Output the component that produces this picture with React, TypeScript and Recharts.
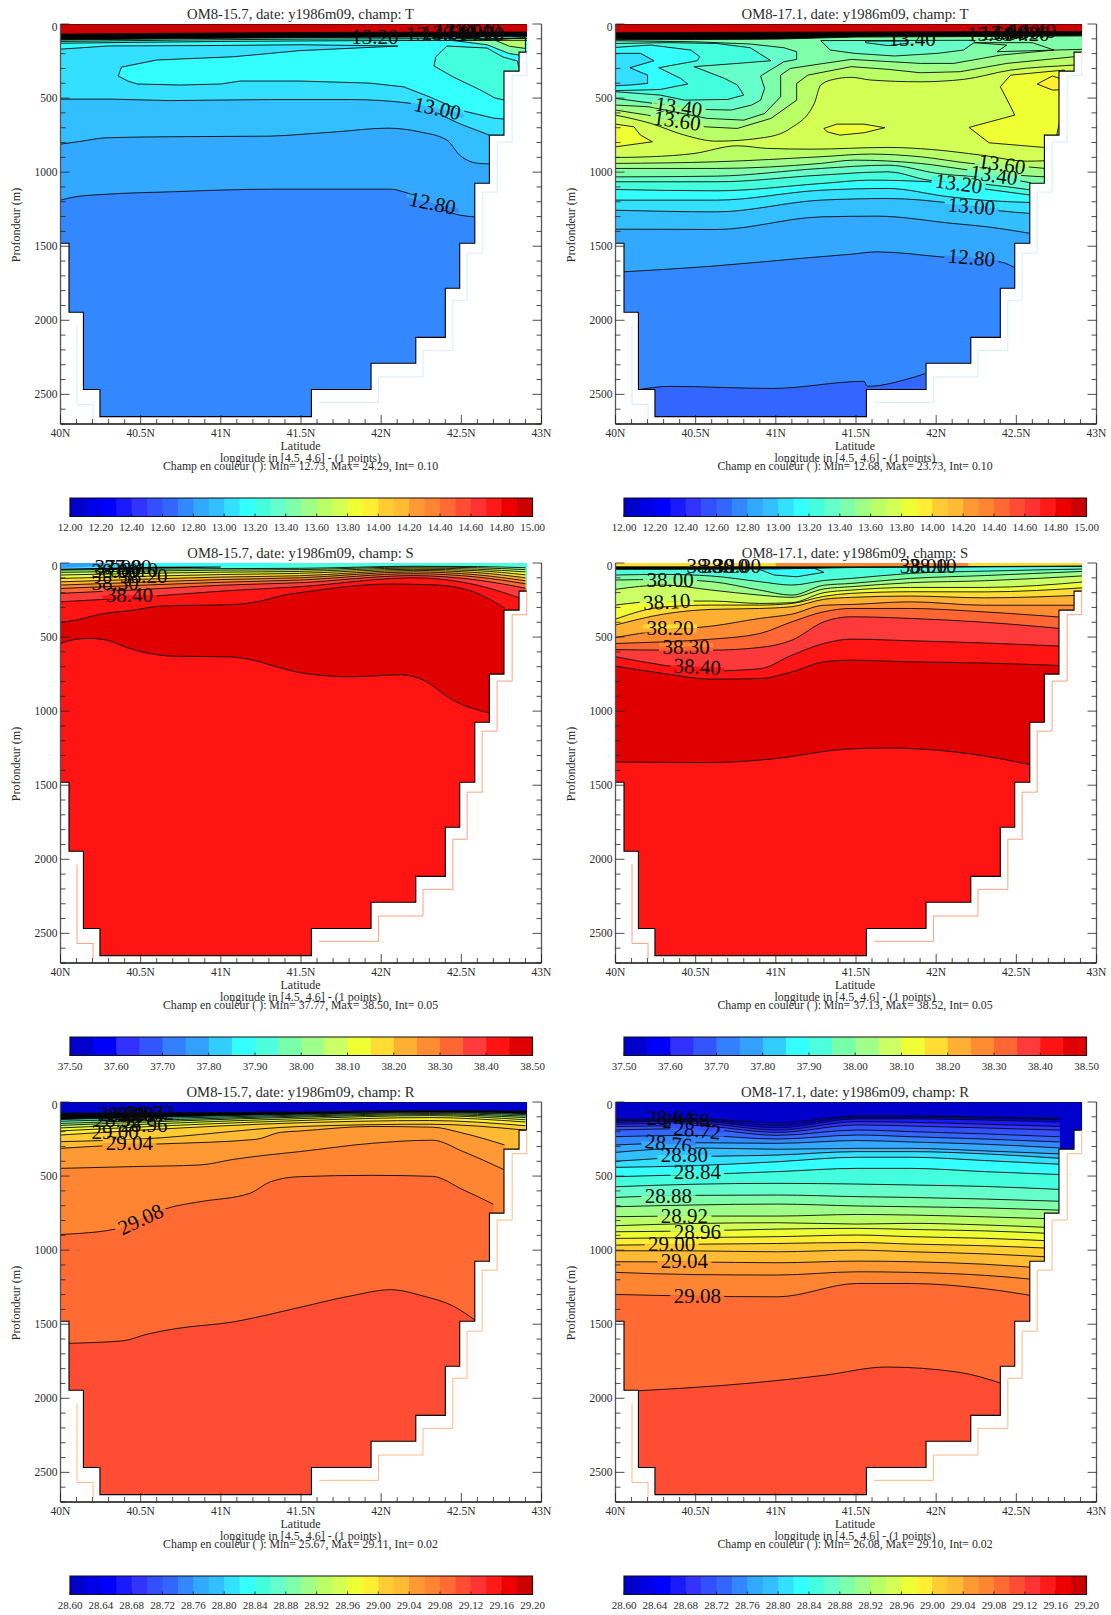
import React from "react";
import { Area, ComposedChart, ReferenceArea, ReferenceDot, XAxis, YAxis } from "recharts";

type Pt = number[];
// band = lower edge of the colour band painted below the line, null = the black surface layer
type Contour = { band: number | null; pts: Pt[]; quiet?: boolean };
type ContourLabel = { text: string; lat: number; depth: number; angle?: number; chip?: number[]; size?: number };

const FONT = "'Liberation Serif', serif";
const TEXT = "#2b2b2b";
const DEPTH_MAX = 2700;

const latTicks = Array.from({ length: 31 }, (_, i) => 40 + i / 10);
const depthTicks = Array.from({ length: 28 }, (_, i) => i * 100);

const bathymetry = [
  [40, 1480], [40.053, 1946], [40.143, 2467], [40.246, 2650], [41.565, 2467], [41.937, 2290], [42.216, 2115],
  [42.4, 1784], [42.49, 1480], [42.584, 1075], [42.675, 750], [42.766, 318], [42.86, 190], [42.91, 0], [43, 0],
];
const bathymetryEdge = [...bathymetry.slice(0, 13), [42.91, 190]];
const paleCoastRight = [
  [41.613, 2554], [41.983, 2383], [42.261, 2203], [42.447, 1865], [42.536, 1547], [42.63, 1135], [42.723, 797],
  [42.817, 349], [42.908, 190],
];
const paleCoastLeft = [[40.103, 2034], [40.103, 2568], [40.203, 2669]];

const paletteThirty = [
  "#0000cc", "#0000e6", "#0000ff", "#1a1aff", "#3333ff", "#3350ff", "#3366ff", "#3388ff", "#33a8ff", "#33bfff",
  "#33e0ff", "#33ffff", "#44ffdd", "#66ffcc", "#80ffaa", "#a0ff88", "#bbff66", "#d4ff55", "#eeff33", "#ffee33",
  "#ffcc33", "#ffbb33", "#ff9933", "#ff8533", "#ff6b33", "#ff4d33", "#ff3333", "#ff1a1a", "#ee0000", "#cc0000",
];
const paletteTwenty = [
  "#0000cc", "#0000ff", "#3030ff", "#3355ff", "#3380ff", "#33a0ff", "#33ccff", "#33ffff", "#4dffdd", "#77ffaa",
  "#a0ff88", "#ccff66", "#f0ff33", "#ffdd33", "#ffb033", "#ff8c33", "#ff6633", "#ff3a3a", "#ff1414", "#e00000",
];

const tempBarTicks = [12, 12.2, 12.4, 12.6, 12.8, 13, 13.2, 13.4, 13.6, 13.8, 14, 14.2, 14.4, 14.6, 14.8, 15];
const salBarTicks = [37.5, 37.6, 37.7, 37.8, 37.9, 38, 38.1, 38.2, 38.3, 38.4, 38.5];
const rhoBarTicks = [28.6, 28.64, 28.68, 28.72, 28.76, 28.8, 28.84, 28.88, 28.92, 28.96, 29, 29.04, 29.08, 29.12, 29.16, 29.2];

const temp157: Contour[] = [
  { band: 14.9, pts: [[40, 0], [43, 0]] },
  { band: null, pts: [[40, 68], [41.5, 58], [43, 54]] },
  { band: 13.3, pts: [[40, 108], [41.5, 92], [43, 86]] },
  { band: 13.2, pts: [[40, 118], [41.5, 102], [43, 98]] },
  { band: 13.1, pts: [[40, 130], [41, 118], [42, 112], [43, 110]] },
  {
    band: 13.0,
    pts: [
      [40, 170], [40.3, 148], [41, 145], [41.5, 140], [42.105, 149], [41.49, 180], [41.08, 221], [40.6, 243], [40.38, 291],
      [40.36, 351], [40.42, 385], [40.48, 405], [40.75, 412], [41, 405], [41.12, 385], [41.49, 385], [41.93, 399],
      [42.14, 424], [42.3, 491], [42.49, 581], [42.7, 635], [42.77, 642],
    ],
  },
  { band: 12.9, pts: [[40, 507], [40.31, 507], [40.68, 517], [41.31, 510], [41.81, 510], [42.18, 535], [42.51, 682], [42.675, 750]] },
  { band: 12.8, pts: [[40, 811], [40.12, 793], [40.29, 768], [40.68, 761], [41.31, 757], [41.5, 745], [41.72, 728], [42.04, 703], [42.24, 728], [42.41, 784], [42.49, 885], [42.61, 941], [42.7, 945]] },
  { band: 12.7, pts: [[40, 1189], [40.09, 1167], [40.29, 1149], [40.68, 1133], [41.31, 1115], [42.06, 1115], [42.14, 1133], [42.49, 1290], [42.58, 1302]] },
  {
    band: 13.2,
    pts: [
      [42.41, 149], [42.34, 223], [42.33, 284], [42.45, 358], [42.62, 446], [42.71, 500], [42.77, 514], [42.9, 514],
      [42.85, 250], [42.76, 223], [42.66, 162], [42.41, 149],
    ],
  },
  { band: 13.4, pts: [[42.45, 112], [42.66, 140], [42.8, 200], [42.9, 215], [42.9, 95], [42.45, 112]] },
  { band: 13.6, pts: [[42.7, 105], [42.8, 150], [42.9, 165], [42.9, 92], [42.7, 105]] },
];
const temp157Labels: ContourLabel[] = [
  { text: "13.20", lat: 41.96, depth: 90 },
  { text: "13.00", lat: 42.35, depth: 570, angle: 12, chip: [13, 12.9] },
  { text: "12.80", lat: 42.32, depth: 1210, angle: 12, chip: [12.8, 12.7] },
  { text: "13.40", lat: 42.3, depth: 70 },
  { text: "13.60", lat: 42.4, depth: 60 },
  { text: "13.80", lat: 42.48, depth: 50 },
  { text: "14.00", lat: 42.55, depth: 55 },
  { text: "14.20", lat: 42.62, depth: 65 },
  { text: "14.40", lat: 42.6, depth: 45 },
];

const temp171: Contour[] = [
  { band: 14.9, pts: [[40, 0], [43, 0]] },
  { band: null, pts: [[40, 59], [41.5, 54], [43, 50]] },
  { band: 13.4, pts: [[40, 106], [41, 102], [41.5, 88], [42, 86], [43, 80]] },
  {
    band: 13.5,
    pts: [
      [40, 547], [40.21, 559], [40.57, 637], [40.8, 649], [40.93, 604], [41.03, 491], [41.03, 345], [41.09, 300], [41.3, 266],
      [41.47, 239], [41.9, 266], [42.11, 266], [42.4, 210], [42.735, 176], [42.95, 170],
    ],
  },
  {
    band: 13.6,
    pts: [
      [40, 581], [40.2, 615], [40.56, 694], [40.76, 705], [40.97, 637], [41.13, 514], [41.13, 401], [41.2, 345], [41.47, 288],
      [41.7, 306], [41.9, 329], [42.15, 322], [42.44, 266], [42.86, 221], [42.95, 215],
    ],
  },
  {
    band: 13.7,
    pts: [
      [40, 615], [40.22, 671], [40.43, 750], [40.63, 791], [40.93, 766], [41.09, 705], [41.24, 536], [41.28, 412], [41.36, 374],
      [41.47, 360], [41.59, 378], [41.9, 390], [42.17, 374], [42.465, 311], [42.86, 277], [42.95, 270],
    ],
  },
  { band: 13.6, pts: [[40, 901], [40.22, 896], [40.49, 874], [40.76, 822], [40.95, 840], [41.22, 845], [41.7, 833], [41.97, 847], [42.28, 885], [42.57, 926], [42.68, 923]] },
  { band: 13.5, pts: [[40, 941], [40.63, 930], [41.28, 896], [41.59, 878], [41.9, 896], [42.215, 941], [42.57, 964], [42.68, 975]] },
  { band: 13.4, pts: [[40, 975], [40.63, 975], [41.28, 941], [41.49, 919], [41.9, 941], [42.215, 987], [42.5, 1020], [42.68, 1032]] },
  { band: 13.3, pts: [[40, 1032], [40.63, 1027], [41.28, 975], [41.7, 953], [42.01, 1009], [42.5, 1054], [42.59, 1072]] },
  { band: 13.2, pts: [[40, 1065], [40.63, 1065], [41.28, 1020], [41.7, 998], [41.95, 1054], [42.3, 1081], [42.59, 1120]] },
  { band: 13.1, pts: [[40, 1117], [40.63, 1126], [41.28, 1077], [41.59, 1054], [41.95, 1065], [42.28, 1110], [42.59, 1155]] },
  { band: 13.0, pts: [[40, 1189], [40.63, 1189], [41.28, 1122], [41.7, 1110], [42.07, 1165], [42.3, 1190], [42.59, 1205]] },
  { band: 12.9, pts: [[40, 1257], [40.63, 1268], [41.28, 1189], [41.7, 1178], [42.11, 1212], [42.4, 1261], [42.59, 1279]] },
  { band: 12.8, pts: [[40, 1385], [40.63, 1387], [41.28, 1302], [41.63, 1297], [42.11, 1347], [42.32, 1369], [42.59, 1414]] },
  { band: 12.7, pts: [[40, 1676], [40.6, 1635], [41.2, 1578], [41.47, 1554], [41.63, 1538], [42.03, 1572], [42.4, 1606], [42.5, 1651]] },
  { band: 12.6, pts: [[40.15, 2467], [40.34, 2446], [40.98, 2460], [41.55, 2412], [41.57, 2446], [41.81, 2400], [41.93, 2360]] },
  {
    band: 13.3,
    pts: [
      [40, 113], [40.49, 120], [40.84, 135], [41.05, 160], [41.13, 187], [41.13, 239], [41.05, 255], [40.905, 351], [40.93, 435],
      [40.905, 514], [40.85, 547], [40.72, 581], [40.57, 577], [40.21, 532], [40, 502], [40, 113],
    ],
  },
  {
    band: 13.2,
    pts: [
      [40, 131], [40.32, 126], [40.63, 131], [40.84, 160], [40.97, 248], [40.76, 266], [40.49, 288], [40.68, 367], [40.76, 412],
      [40.8, 480], [40.7, 509], [40.43, 514], [40.28, 480], [40, 457], [40, 131],
    ],
  },
  {
    band: 13.1,
    pts: [
      [40, 158], [40.22, 142], [40.47, 176], [40.525, 221], [40.51, 248], [40.27, 295], [40.406, 367], [40.45, 405], [40.28, 442],
      [40, 450], [40, 158],
    ],
  },
  { band: 13.0, pts: [[40, 198], [40.156, 198], [40.24, 248], [40.09, 295], [40.2, 345], [40.2, 401], [40.09, 412], [40, 417], [40, 198]] },
  { band: 13.3, pts: [[41.28, 112], [41.34, 176], [41.49, 198], [41.74, 216], [42.01, 198], [42.17, 176], [42.237, 126], [42.237, 110], [41.28, 112]] },
  { band: 13.2, pts: [[41.56, 126], [41.7, 146], [41.82, 131], [41.82, 115], [41.56, 115], [41.56, 126]] },
  { band: 13.4, pts: [[42.237, 126], [42.44, 142], [42.38, 187], [42.735, 176], [42.6, 126], [42.237, 126]] },
  { band: 13.8, pts: [[40, 676], [40.115, 694], [40.156, 750], [40.23, 795], [40, 829], [40, 676]] },
  { band: 13.8, pts: [[41.3, 705], [41.38, 676], [41.55, 676], [41.68, 700], [41.55, 734], [41.4, 750], [41.32, 728], [41.3, 705]] },
  {
    band: 13.8,
    pts: [
      [42.465, 345], [42.4, 423], [42.465, 559], [42.49, 615], [42.205, 698], [42.33, 802], [42.67, 833], [42.735, 833], [42.8, 514],
      [42.8, 311], [42.465, 345],
    ],
  },
  { band: 13.9, pts: [[42.63, 405], [42.725, 351], [42.77, 367], [42.82, 367], [42.82, 442], [42.725, 446], [42.63, 405]] },
];
const temp171Labels: ContourLabel[] = [
  { text: "13.40", lat: 40.395, depth: 559, angle: 8, chip: [13.4, 13.5] },
  { text: "13.60", lat: 40.385, depth: 653, angle: 8, chip: [13.5, 13.6] },
  { text: "13.40", lat: 41.85, depth: 101 },
  { text: "13.60", lat: 42.41, depth: 946, angle: 8, chip: [13.6, 13.5] },
  { text: "13.40", lat: 42.36, depth: 1020, angle: 8, chip: [13.4, 13.3] },
  { text: "13.20", lat: 42.14, depth: 1077, angle: 8, chip: [13.2, 13.1] },
  { text: "13.00", lat: 42.22, depth: 1230, angle: 5, chip: [13, 12.9] },
  { text: "12.80", lat: 42.22, depth: 1577, angle: 5, chip: [12.8, 12.7] },
  { text: "13.60", lat: 42.34, depth: 70 },
  { text: "13.80", lat: 42.42, depth: 60 },
  { text: "14.00", lat: 42.5, depth: 55 },
  { text: "14.20", lat: 42.56, depth: 70 },
  { text: "14.40", lat: 42.6, depth: 50 },
];

const salSurfaceLats = [40, 40.5, 41, 41.49, 42.2, 42.6, 42.9];
const sal157Levels = [38, 38.05, 38.1, 38.15, 38.2, 38.25, 38.3, 38.35, 38.4];
const sal157Depths = [
  [48, 42, 38, 36, 22, 24, 32],
  [63, 55, 48, 45, 27, 32, 45],
  [81, 70, 62, 57, 34, 42, 60],
  [104, 90, 78, 70, 42, 52, 80],
  [127, 110, 95, 86, 50, 65, 100],
  [149, 130, 112, 100, 60, 80, 120],
  [172, 150, 130, 115, 72, 95, 140],
  [205, 180, 150, 133, 85, 115, 170],
  [262, 230, 190, 160, 100, 150, 250],
];
const sal157Surface: Contour[] = [
  { band: 37.9, pts: [[40, 0], [43, 0]], quiet: true },
  { band: 37.85, pts: [[40, 0], [41.5, 0], [41.3, 18], [40.6, 20], [40, 34], [40, 0]], quiet: true },
  { band: 37.8, pts: [[40, 0], [40.5, 0], [40.35, 26], [40, 36], [40, 0]], quiet: true },
  { band: 37.75, pts: [[40, 0], [40.28, 0], [40.22, 22], [40, 32], [40, 0]], quiet: true },
  { band: null, pts: [[40, 38], [40.6, 26], [41, 24], [41, 30], [40, 48], [40, 38]], quiet: true },
];
const sal157Deep: Contour[] = [
  {
    band: 38.45,
    pts: [
      [40, 401], [40.1, 385], [40.25, 345], [40.46, 318], [40.62, 291], [41.08, 280], [41.25, 257], [41.39, 217], [41.49, 201],
      [42.06, 142], [42.32, 147], [42.58, 196], [42.77, 304],
    ],
  },
  {
    band: 38.4,
    pts: [
      [40, 543], [40.1, 514], [40.18, 509], [40.29, 521], [40.43, 577], [40.58, 615], [40.7, 629], [41.04, 633], [41.18, 651],
      [41.35, 701], [41.49, 739], [41.81, 768], [42.13, 754], [42.26, 789], [42.45, 928], [42.67, 1012],
    ],
  },
];
const sal157Labels: ContourLabel[] = [
  { text: "38.40", lat: 40.43, depth: 217, chip: [38.35, 38.4] },
  { text: "38.30", lat: 40.34, depth: 138 },
  { text: "38.20", lat: 40.52, depth: 88 },
  { text: "38.00", lat: 40.34, depth: 55 },
  { text: "38.10", lat: 40.46, depth: 50 },
  { text: "37.90", lat: 40.36, depth: 25 },
  { text: "37.80", lat: 40.42, depth: 30 },
];

const sal171Lats = [40, 40.3, 40.6, 40.9, 41.1, 41.3, 41.47, 41.84, 42.3, 42.95];
const sal171Levels = [37.95, 38, 38.05, 38.1, 38.15, 38.2, 38.25, 38.3, 38.35, 38.4, 38.45];
const sal171Depths = [
  [81, 77, 88, 126, 149, 118, 104, 70, 55, 40],
  [115, 111, 126, 183, 217, 150, 138, 104, 85, 55],
  [178, 149, 183, 217, 232, 175, 160, 133, 120, 85],
  [284, 257, 257, 273, 268, 200, 183, 165, 165, 125],
  [379, 296, 284, 284, 273, 225, 205, 194, 195, 165],
  [419, 345, 313, 307, 295, 245, 232, 223, 235, 215],
  [503, 453, 426, 374, 345, 285, 280, 262, 285, 285],
  [543, 532, 514, 476, 397, 329, 307, 307, 330, 380],
  [584, 588, 588, 570, 521, 397, 363, 374, 400, 460],
  [633, 690, 728, 714, 622, 543, 514, 525, 540, 570],
  [696, 746, 784, 780, 735, 667, 656, 667, 675, 700],
];
const sal171Surface: Contour[] = [
  { band: 38.15, pts: [[40, 0], [43, 0]], quiet: true },
  { band: 38.25, pts: [[41, 0], [42.2, 0], [42.2, 22], [41, 22], [41, 0]], quiet: true },
  { band: null, pts: [[40, 26], [41.5, 26], [43, 20]] },
  { band: 37.9, pts: [[40, 43], [41, 40], [41.5, 30], [42, 28], [43, 22]] },
];
const sal171Deep: Contour[] = [
  { band: 38.4, pts: [[40, 1343], [40.59, 1347], [41, 1320], [41.43, 1257], [41.69, 1249], [42.27, 1297], [42.58, 1360]] },
  { band: 37.85, pts: [[40.88, 36], [40.99, 81], [41.13, 93], [41.3, 63], [41.24, 36], [40.88, 36]] },
];
const sal171Labels: ContourLabel[] = [
  { text: "38.00", lat: 40.34, depth: 115, chip: [37.95, 38] },
  { text: "38.10", lat: 40.32, depth: 262, angle: -3, chip: [38.05, 38.1] },
  { text: "38.20", lat: 40.34, depth: 442, chip: [38.15, 38.2] },
  { text: "38.30", lat: 40.44, depth: 566, chip: [38.25, 38.3] },
  { text: "38.40", lat: 40.51, depth: 700, angle: 3, chip: [38.35, 38.4] },
  { text: "38.30", lat: 40.59, depth: 20 },
  { text: "38.10", lat: 40.68, depth: 20 },
  { text: "38.00", lat: 40.76, depth: 20 },
  { text: "38.00", lat: 41.92, depth: 20 },
  { text: "38.10", lat: 41.98, depth: 20 },
];

const rho157: Contour[] = [
  { band: 28.6, pts: [[40, 0], [43, 0]] },
  { band: null, pts: [[40, 75], [41.5, 68], [42.3, 58], [43, 62]] },
  { band: 28.84, pts: [[40, 118], [41.5, 82], [42.3, 68], [42.9, 78]] },
  { band: 28.88, pts: [[40, 130], [41.5, 88], [42.3, 72], [42.9, 85]] },
  { band: 28.92, pts: [[40, 145], [41.5, 95], [42.3, 78], [42.9, 95]] },
  { band: 28.94, pts: [[40, 158], [41.5, 102], [42.3, 85], [42.9, 105]] },
  { band: 28.96, pts: [[40, 175], [41.5, 112], [42.3, 92], [42.9, 120]] },
  { band: 28.98, pts: [[40, 195], [41.5, 125], [42.3, 105], [42.9, 135]] },
  { band: 29, pts: [[40, 223], [40.5, 190], [41.5, 140], [42.3, 125], [42.9, 160]] },
  { band: 29.02, pts: [[40, 268], [40.5, 250], [41.5, 165], [42.3, 150], [42.9, 190]] },
  { band: 29.04, pts: [[40, 313], [40.25, 297], [40.62, 283], [41.22, 252], [41.37, 205], [41.49, 196], [41.94, 165], [42.32, 170], [42.51, 210], [42.77, 290]] },
  { band: 29.06, pts: [[40, 448], [40.455, 436], [40.87, 425], [41.08, 387], [41.29, 358], [41.49, 335], [41.94, 279], [42.32, 258], [42.51, 334], [42.77, 459]] },
  { band: 29.08, pts: [[40, 894], [40.12, 887], [40.34, 858], [40.7, 707], [40.87, 673], [41.18, 617], [41.31, 538], [41.49, 504], [41.94, 495], [42.32, 502], [42.51, 592], [42.7, 690]] },
  { band: 29.1, pts: [[40, 1630], [40.39, 1612], [40.54, 1567], [40.725, 1529], [41.08, 1484], [41.33, 1427], [41.49, 1387], [41.81, 1309], [42.06, 1267], [42.26, 1309], [42.45, 1378], [42.59, 1476]] },
];
const rho157Labels: ContourLabel[] = [
  { text: "29.08", lat: 40.5, depth: 792, angle: -25, chip: [29.06, 29.08] },
  { text: "29.04", lat: 40.43, depth: 279, chip: [29.02, 29.04] },
  { text: "29.00", lat: 40.34, depth: 200 },
  { text: "28.96", lat: 40.52, depth: 152 },
  { text: "28.92", lat: 40.36, depth: 120 },
  { text: "28.88", lat: 40.44, depth: 85 },
  { text: "28.84", lat: 40.5, depth: 80 },
  { text: "28.80", lat: 40.38, depth: 80 },
  { text: "28.72", lat: 40.56, depth: 75 },
];

const rho171Lats = [40, 40.49, 41.01, 41.51, 41.84, 42.3, 42.77];
const rho171Levels = [28.62, 28.64, 28.66, 28.68, 28.7, 28.72, 28.74, 28.76, 28.78, 28.8, 28.82, 28.84, 28.86, 28.88, 28.9, 28.92, 28.94, 28.96, 28.98, 29, 29.02, 29.04, 29.06, 29.08];
const rho171Depths = [
  [117, 112, 140, 94, 94, 100, 110],
  [126, 120, 157, 103, 103, 110, 120],
  [137, 130, 173, 114, 114, 122, 135],
  [150, 143, 189, 133, 137, 150, 165],
  [166, 160, 205, 155, 162, 175, 190],
  [189, 180, 225, 189, 200, 215, 235],
  [234, 225, 250, 223, 234, 250, 270],
  [290, 275, 279, 260, 270, 285, 310],
  [340, 310, 319, 313, 313, 330, 350],
  [400, 370, 358, 335, 335, 350, 380],
  [441, 430, 403, 373, 373, 395, 420],
  [504, 490, 470, 448, 448, 470, 490],
  [572, 555, 549, 554, 560, 570, 590],
  [644, 630, 628, 639, 644, 655, 670],
  [707, 695, 689, 702, 707, 715, 730],
  [774, 770, 770, 759, 763, 775, 790],
  [835, 820, 815, 824, 819, 830, 850],
  [876, 870, 858, 853, 860, 870, 890],
  [921, 915, 909, 898, 909, 920, 940],
  [966, 960, 955, 948, 959, 970, 990],
  [1004, 1005, 1011, 1000, 1011, 1025, 1050],
  [1078, 1080, 1085, 1074, 1078, 1095, 1130],
  [1150, 1165, 1168, 1146, 1150, 1170, 1215],
  [1299, 1310, 1315, 1225, 1225, 1260, 1340],
];
const rho171Deep: Contour[] = [
  { band: 29.1, pts: [[40.143, 1949], [40.66, 1914], [41.3, 1845], [41.69, 1789], [42.14, 1824], [42.41, 1900]] },
];
const rho171Labels: ContourLabel[] = [
  { text: "28.64", lat: 40.34, depth: 105 },
  { text: "28.68", lat: 40.44, depth: 125 },
  { text: "28.72", lat: 40.51, depth: 190, angle: 6, chip: [28.7, 28.72] },
  { text: "28.76", lat: 40.33, depth: 280, angle: 6, chip: [28.74, 28.76] },
  { text: "28.80", lat: 40.43, depth: 358, chip: [28.78, 28.8] },
  { text: "28.84", lat: 40.51, depth: 470, chip: [28.82, 28.84] },
  { text: "28.88", lat: 40.33, depth: 632, chip: [28.86, 28.88] },
  { text: "28.92", lat: 40.43, depth: 768, chip: [28.9, 28.92] },
  { text: "28.96", lat: 40.51, depth: 876, chip: [28.94, 28.96] },
  { text: "29.00", lat: 40.35, depth: 959, chip: [28.98, 29] },
  { text: "29.04", lat: 40.43, depth: 1074, chip: [29.02, 29.04] },
  { text: "29.08", lat: 40.51, depth: 1308, chip: [29.06, 29.08] },
];

const fromTable = (lats: number[], levels: number[], rows: number[][]): Contour[] =>
  levels.map((band, i) => ({ band, pts: lats.map((lat, j) => [lat, rows[i][j]]) }));

const sal157 = [...sal157Surface, ...fromTable(salSurfaceLats, sal157Levels, sal157Depths), ...sal157Deep];
const sal171 = [...sal171Surface, ...fromTable(sal171Lats, sal171Levels, sal171Depths), ...sal171Deep];
const rho171 = [{ band: 28.6, pts: [[40, 0], [43, 0]] }, ...fromTable(rho171Lats, rho171Levels, rho171Depths), ...rho171Deep];

const rows = (pts: Pt[]) => pts.map(([lat, depth]) => ({ lat, depth }));
// folded or closed contours cannot go through a monotone curve
const curveOf = (pts: Pt[]) => (pts.every((p, i) => i === 0 || p[0] > pts[i - 1][0]) ? "monotoneX" : "linear");

const isMajorLat = (v: number) => Math.round(v * 10) % 5 === 0;
const latText = (v: number) => `${Math.round(v * 10) / 10}N`;

function Section({ left, top, title, footer, contours, labels, colors, min, step, pale, barTicks }: any) {
  const fillOf = (band: number | null) =>
    band === null ? "#000" : colors[Math.min(colors.length - 1, Math.floor((band - min) / step + 0.001))];
  const center = left + 300.5;
  const textStyle: React.CSSProperties = {
    position: "absolute", fontFamily: FONT, color: TEXT, whiteSpace: "nowrap", lineHeight: 1, transform: "translate(-50%, -50%)",
  };
  const max = min + step * colors.length;

  return (
    <>
      <div style={{ ...textStyle, left: center, top: top - 10, fontSize: 14.7 }}>{title}</div>
      <div style={{ ...textStyle, left: left + 16, top: top + 201, fontSize: 12, transform: "translate(-50%, -50%) rotate(-90deg)" }}>
        Profondeur (m)
      </div>
      <div style={{ ...textStyle, left: center, top: top + 422, fontSize: 12 }}>Latitude</div>
      <div style={{ ...textStyle, left: center, top: top + 434, fontSize: 12 }}>longitude in [4.5, 4.6] - (1 points)</div>
      <div style={{ ...textStyle, left: center, top: top + 443, fontSize: 11.8 }}>{footer}</div>

      <div style={{ position: "absolute", left, top: top - 24 }}>
        <ComposedChart width={555} height={454} margin={{ top: 24, right: 0, bottom: 0, left: 0 }}>
          {contours.map((c: Contour, i: number) => (
            <Area
              key={`fill-${i}`}
              data={rows(c.pts)}
              dataKey="depth"
              type={curveOf(c.pts) as any}
              baseValue={DEPTH_MAX}
              fill={fillOf(c.band)}
              fillOpacity={1}
              stroke="none"
              dot={false}
              activeDot={false}
              isAnimationActive={false}
            />
          ))}
          {contours
            .filter((c: Contour) => !c.quiet)
            .map((c: Contour, i: number) => (
              <Area
                key={`line-${i}`}
                data={rows(c.pts)}
                dataKey="depth"
                type={curveOf(c.pts) as any}
                baseValue={DEPTH_MAX}
                fill="none"
                stroke="#0a0a0a"
                strokeWidth={0.9}
                dot={false}
                activeDot={false}
                isAnimationActive={false}
              />
            ))}
          <Area data={rows(bathymetry)} dataKey="depth" type="stepAfter" baseValue={DEPTH_MAX} fill="#fff" fillOpacity={1} stroke="none" dot={false} activeDot={false} isAnimationActive={false} />
          <Area data={rows(bathymetryEdge)} dataKey="depth" type="stepAfter" baseValue={DEPTH_MAX} fill="none" stroke="#000" strokeWidth={1.1} dot={false} activeDot={false} isAnimationActive={false} />
          <Area data={rows(paleCoastRight)} dataKey="depth" type="stepAfter" baseValue={DEPTH_MAX} fill="none" stroke={pale} strokeWidth={0.8} dot={false} activeDot={false} isAnimationActive={false} />
          <Area data={rows(paleCoastLeft)} dataKey="depth" type="stepAfter" baseValue={DEPTH_MAX} fill="none" stroke={pale} strokeWidth={0.8} dot={false} activeDot={false} isAnimationActive={false} />

          <XAxis
            type="number"
            dataKey="lat"
            domain={[40, 43]}
            ticks={latTicks}
            interval={0}
            height={30}
            tickSize={0}
            tickMargin={0}
            tickLine={false}
            axisLine={{ stroke: "#111", strokeWidth: 1.3 }}
            allowDataOverflow
            tick={({ x, y, payload }: any) => {
              const major = isMajorLat(payload.value);
              return (
                <g>
                  <line x1={x} x2={x} y1={y} y2={y - (major ? 9 : 5)} stroke="#222" strokeWidth={0.8} />
                  {major && (
                    <text x={x} y={y + 13} textAnchor="middle" fontFamily={FONT} fontSize={11.5} fill={TEXT}>
                      {latText(payload.value)}
                    </text>
                  )}
                </g>
              );
            }}
          />
          <XAxis
            xAxisId="top"
            orientation="top"
            type="number"
            dataKey="lat"
            domain={[40, 43]}
            ticks={latTicks}
            interval={0}
            height={0}
            tickSize={0}
            tickMargin={0}
            tickLine={false}
            axisLine={{ stroke: "#333", strokeWidth: 1.3 }}
            allowDataOverflow
            tick={({ x, y, payload }: any) => (
              <line x1={x} x2={x} y1={y} y2={y + (isMajorLat(payload.value) ? 9 : 5)} stroke="#222" strokeWidth={0.8} />
            )}
          />
          <YAxis
            type="number"
            reversed
            domain={[0, DEPTH_MAX]}
            ticks={depthTicks}
            interval={0}
            width={60.5}
            tickSize={0}
            tickMargin={0}
            tickLine={false}
            axisLine={{ stroke: "#555", strokeWidth: 1.3 }}
            allowDataOverflow
            tick={({ x, y, payload }: any) => {
              const major = payload.value % 500 === 0;
              return (
                <g>
                  <line x1={x} x2={x + (major ? 9 : 5)} y1={y} y2={y} stroke="#222" strokeWidth={0.8} />
                  {major && (
                    <text x={x - 3} y={y + (payload.value === 0 ? 7 : 4)} textAnchor="end" fontFamily={FONT} fontSize={11.5} fill={TEXT}>
                      {payload.value}
                    </text>
                  )}
                </g>
              );
            }}
          />
          <YAxis
            yAxisId="right"
            orientation="right"
            type="number"
            reversed
            domain={[0, DEPTH_MAX]}
            ticks={depthTicks}
            interval={0}
            width={13.5}
            tickSize={0}
            tickMargin={0}
            tickLine={false}
            axisLine={{ stroke: "#555", strokeWidth: 1.3 }}
            allowDataOverflow
            tick={({ x, y, payload }: any) => (
              <line x1={x} x2={x - (payload.value % 500 === 0 ? 9 : 5)} y1={y} y2={y} stroke="#222" strokeWidth={0.8} />
            )}
          />

          {labels.map((l: ContourLabel, i: number) => (
            <ReferenceDot
              key={`label-${i}`}
              x={l.lat}
              y={l.depth}
              r={0}
              ifOverflow="visible"
              shape={({ cx, cy }: any) => (
                <g transform={`translate(${cx},${cy}) rotate(${l.angle || 0})`}>
                  {l.chip && <rect x={-27} y={-4} width={54} height={4} fill={fillOf(l.chip[0])} />}
                  {l.chip && <rect x={-27} y={0} width={54} height={4} fill={fillOf(l.chip[1])} />}
                  <text textAnchor="middle" y={7} fontFamily={FONT} fontSize={l.size || 21} fill="#0a0a0a">
                    {l.text}
                  </text>
                </g>
              )}
            />
          ))}
        </ComposedChart>
      </div>

      <div style={{ position: "absolute", left: left + 39.5, top: top + 472 }}>
        <ComposedChart width={522.5} height={42} margin={{ top: 2, right: 30, bottom: 0, left: 30 }}>
          {colors.map((color: string, i: number) => (
            // each band runs a little under the next one so no seam shows
            <Area
              key={color + i}
              data={[
                { value: min + step * i, one: 1 },
                { value: Math.min(max, min + step * (i + 1.3)), one: 1 },
              ]}
              dataKey="one"
              type="linear"
              baseValue={0}
              fill={color}
              fillOpacity={1}
              stroke="none"
              dot={false}
              activeDot={false}
              isAnimationActive={false}
            />
          ))}
          <XAxis
            type="number"
            dataKey="value"
            domain={[min, max]}
            ticks={barTicks}
            interval={0}
            height={21.5}
            tickSize={0}
            tickMargin={0}
            tickLine={false}
            axisLine={false}
            allowDataOverflow
            tick={({ x, y, payload }: any) => (
              <g>
                <line x1={x} x2={x} y1={y} y2={y - 3} stroke="#111" strokeWidth={0.8} />
                <text x={x} y={y + 14} textAnchor="middle" fontFamily={FONT} fontSize={11} fill={TEXT}>
                  {payload.value.toFixed(2)}
                </text>
              </g>
            )}
          />
          <YAxis hide type="number" domain={[0, 1]} />
          <ReferenceArea x1={min} x2={max} y1={0} y2={1} fill="none" stroke="#111" strokeWidth={1.2} ifOverflow="visible" />
        </ComposedChart>
      </div>
    </>
  );
}

const COL_A = 0;
const COL_B = 554.5;

export default function App() {
  return (
    <div style={{ position: "absolute", left: 0, top: 0, width: 1111, height: 1615, background: "#fff", overflow: "hidden" }}>
      <Section
        left={COL_A} top={24} title="OM8-15.7, date: y1986m09, champ: T"
        footer="Champ en couleur ( ): Min= 12.73, Max= 24.29, Int= 0.10"
        contours={temp157} labels={temp157Labels} colors={paletteThirty} min={12} step={0.1} pale="#cfe6ff" barTicks={tempBarTicks}
      />
      <Section
        left={COL_B} top={24} title="OM8-17.1, date: y1986m09, champ: T"
        footer="Champ en couleur ( ): Min= 12.68, Max= 23.73, Int= 0.10"
        contours={temp171} labels={temp171Labels} colors={paletteThirty} min={12} step={0.1} pale="#c8ecf0" barTicks={tempBarTicks}
      />
      <Section
        left={COL_A} top={563} title="OM8-15.7, date: y1986m09, champ: S"
        footer="Champ en couleur ( ): Min= 37.77, Max= 38.50, Int= 0.05"
        contours={sal157} labels={sal157Labels} colors={paletteTwenty} min={37.5} step={0.05} pale="#ff8a60" barTicks={salBarTicks}
      />
      <Section
        left={COL_B} top={563} title="OM8-17.1, date: y1986m09, champ: S"
        footer="Champ en couleur ( ): Min= 37.13, Max= 38.52, Int= 0.05"
        contours={sal171} labels={sal171Labels} colors={paletteTwenty} min={37.5} step={0.05} pale="#ff8a60" barTicks={salBarTicks}
      />
      <Section
        left={COL_A} top={1102} title="OM8-15.7, date: y1986m09, champ: R"
        footer="Champ en couleur ( ): Min= 25.67, Max= 29.11, Int= 0.02"
        contours={rho157} labels={rho157Labels} colors={paletteThirty} min={28.6} step={0.02} pale="#ffa868" barTicks={rhoBarTicks}
      />
      <Section
        left={COL_B} top={1102} title="OM8-17.1, date: y1986m09, champ: R"
        footer="Champ en couleur ( ): Min= 26.08, Max= 29.10, Int= 0.02"
        contours={rho171} labels={rho171Labels} colors={paletteThirty} min={28.6} step={0.02} pale="#ffa868" barTicks={rhoBarTicks}
      />
    </div>
  );
}
